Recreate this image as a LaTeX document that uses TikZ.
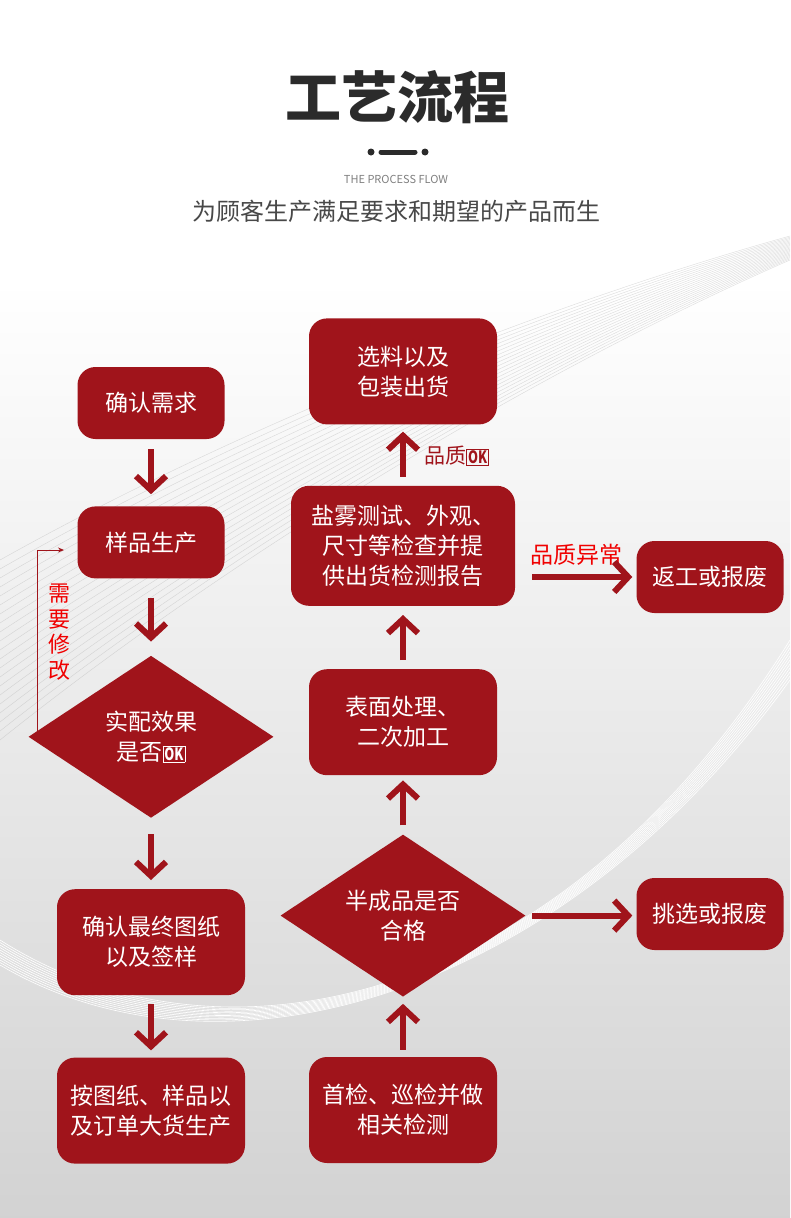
\documentclass[tikz,border=0pt]{standalone}
\usepackage{fontspec}
\setmainfont{Noto Sans CJK SC}
\usepackage{graphicx}
\usetikzlibrary{positioning,shapes.geometric,arrows.meta,calc}
\definecolor{boxred}{RGB}{160,20,27}
\definecolor{warnred}{RGB}{240,0,0}
\definecolor{titlegray}{RGB}{43,43,43}
\definecolor{subgray}{RGB}{72,72,72}
\newcommand\okmark{{\setlength\fboxsep{1.2pt}\setlength\fboxrule{0.7pt}%
  \fbox{\scalebox{0.75}[1]{\fontsize{17}{17}\selectfont\bfseries OK}}}}

\begin{document}
\begin{tikzpicture}[x=1pt, y=-1pt,
    box/.style={rectangle, rounded corners=18pt, fill=boxred, text=white, align=center,
                font=\fontsize{23}{30}\selectfont, inner sep=0pt, minimum width=188pt, minimum height=106pt},
    small/.style={box, minimum width=147pt, minimum height=72pt},
    dec/.style={diamond, aspect=1.5, fill=boxred, text=white, align=center, font=\fontsize{23}{30}\selectfont,
                inner sep=0pt, minimum width=245pt, minimum height=162pt},
    arr/.style={draw=boxred, line width=6pt, -{Straight Barb[length=14pt, width=30pt]}},
    redo/.style={draw=boxred, line width=0.9pt, -{Stealth[length=6pt, width=5pt]}},
    lbl/.style={font=\fontsize{23}{25}\selectfont, text=warnred, inner sep=0pt}]
    \useasboundingbox (0,0) rectangle (790,1218);
    % background
    \fill[white] (0,0) rectangle (790,1218);
    \shade[top color=white, bottom color=gray!35] (0,280) rectangle (790,1218);
    \foreach \k in {0,3,...,60}
      \draw[gray!60, line width=0.4pt, opacity=0.45] (790,236+\k*0.4) .. controls (560,300+\k) and (250,420+\k*2) .. (0,560+\k*3);
    \foreach \k in {0,...,10}
      \draw[white, line width=0.6pt] (0,940+\k*2.5) .. controls (220,1080+\k*1.5) and (560,1010-\k) .. (790,640+\k*4);
    % heading
    \node[font=\fontsize{56}{56}\selectfont\bfseries, text=titlegray] (title) at (397,97) {工艺流程};
    \fill[titlegray] (371,152) circle (3.5);
    \draw[titlegray, line width=5pt, line cap=round] (381,152) -- (415,152);
    \fill[titlegray] (425,152) circle (3.5);
    \node[font=\fontsize{11}{11}\selectfont, text=gray] (eng) at (396,179) {THE PROCESS FLOW};
    \node[font=\fontsize{24}{24}\selectfont, text=subgray] (sub) at (396,211) {为顾客生产满足要求和期望的产品而生};
    % left column
    \node[small] (need) at (151,403) {确认需求};
    \node[small, below=67pt of need] (sample) {样品生产};
    \node[dec, below=77pt of sample] (fit) {实配效果\\是否\okmark};
    \node[box, below=71pt of fit] (final) {确认最终图纸\\以及签样};
    \node[box, below=62pt of final] (mass) {按图纸、样品以\\及订单大货生产};
    % right column
    \node[box] (first) at (403,1110) {首检、巡检并做\\相关检测};
    \node[dec, above=60pt of first] (semi) {半成品是否\\合格};
    \node[box, above=59pt of semi] (surf) {表面处理、\\二次加工};
    \node[box, minimum width=224pt, minimum height=120pt, above=63pt of surf] (salt) {盐雾测试、外观、\\尺寸等检查并提\\供出货检测报告};
    \node[box, above=61pt of salt] (ship) {选料以及\\包装出货};
    \node[small] (rework) at (710,577) {返工或报废};
    \node[small] (pick) at (710,914) {挑选或报废};
    % labels
    \node[lbl, text=boxred, font=\fontsize{21}{25}\selectfont, anchor=west] (okl) at (424,456) {品质\okmark};
    \node[lbl, anchor=south west] (bad) at (530,566) {品质异常};
    \node[lbl, align=center, font=\fontsize{22}{25.5}\selectfont] (modify) at (59,632) {需\\要\\修\\改};
    \coordinate (loopend) at (64,550);
    % arrows
    \draw[arr, shorten <=10pt, shorten >=12pt] (need) -- (sample);
    \draw[arr, shorten <=19pt, shorten >=14pt] (sample) -- (fit);
    \draw[arr, shorten <=16pt, shorten >=9pt] (fit) -- (final);
    \draw[arr, shorten <=9pt, shorten >=7pt] (final) -- (mass);
    \draw[arr, shorten <=7pt, shorten >=7pt] (first) -- (semi);
    \draw[arr, shorten <=9pt, shorten >=5pt] (semi) -- (surf);
    \draw[arr, shorten <=9pt, shorten >=9pt] (surf) -- (salt);
    \draw[arr, shorten <=9pt, shorten >=7pt] (salt) -- (ship);
    \draw[arr, shorten <=17pt, shorten >=4pt] (salt.east |- rework) -- (rework.west);
    \draw[arr, shorten <=6pt, shorten >=4pt] (semi.east) -- (semi.east -| pick.west);
    \draw[redo] ($(fit.west)!0.073!(fit.north)$) |- (loopend);
\end{tikzpicture}
\end{document}
